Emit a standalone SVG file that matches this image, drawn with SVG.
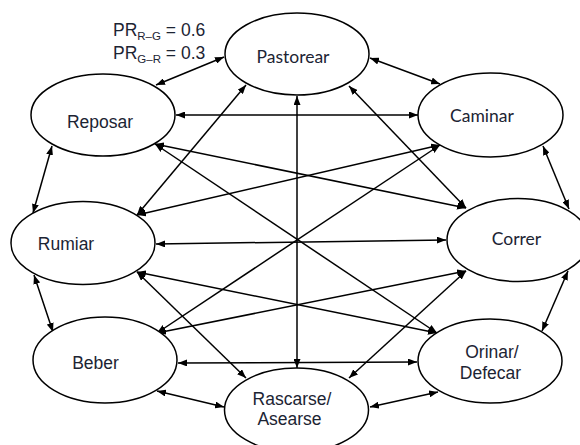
<svg xmlns="http://www.w3.org/2000/svg" width="580" height="445" viewBox="0 0 580 445">
<style>
.n{fill:#fff;stroke:#000;stroke-width:1.5}
.a{font-family:"Liberation Sans",Arial,sans-serif;font-size:17.5px;fill:#1c2433;text-anchor:middle}
.c{font-family:Lato,"Liberation Sans",sans-serif;font-size:17.5px;fill:#1c2433;text-anchor:middle}
.pr{font-family:"Liberation Sans",Arial,sans-serif;font-size:17.5px;fill:#1c2433}
.s{font-size:11.5px}
#edges line{stroke:#000;stroke-width:1.5;marker-start:url(#ah);marker-end:url(#ah)}
</style>
<defs>
<marker id="ah" markerUnits="userSpaceOnUse" markerWidth="9" markerHeight="7" refX="9" refY="3.5" orient="auto-start-reverse">
<path d="M0,0 L9,3.5 L0,7 z" fill="#000"/>
</marker>
</defs>
<rect width="580" height="445" fill="#fff"/>
<g id="edges">
<line x1="224" y1="57" x2="156" y2="85"/>
<line x1="370" y1="58" x2="440" y2="84"/>
<line x1="52" y1="146" x2="33" y2="213"/>
<line x1="543" y1="146" x2="569" y2="209"/>
<line x1="34" y1="275" x2="53" y2="332"/>
<line x1="568" y1="271" x2="542" y2="331"/>
<line x1="157" y1="391" x2="224" y2="407"/>
<line x1="370" y1="407" x2="438" y2="392"/>
<line x1="176" y1="115" x2="418" y2="115"/>
<line x1="156" y1="244" x2="446" y2="240"/>
<line x1="178" y1="363" x2="417" y2="362"/>
<line x1="297" y1="96" x2="297" y2="368"/>
<line x1="246" y1="85" x2="137" y2="215"/>
<line x1="349" y1="86" x2="466" y2="208"/>
<line x1="155" y1="144" x2="466" y2="208"/>
<line x1="155" y1="144" x2="437" y2="333"/>
<line x1="440" y1="145" x2="137" y2="215"/>
<line x1="440" y1="145" x2="157" y2="333"/>
<line x1="137" y1="272" x2="437" y2="333"/>
<line x1="137" y1="272" x2="246" y2="378"/>
<line x1="466" y1="271" x2="157" y2="333"/>
<line x1="466" y1="271" x2="349" y2="378"/>
</g>
<g id="pastorear"><ellipse class="n" cx="297" cy="54" rx="72" ry="41"/><text class="c" x="293" y="63">Pastorear</text></g>
<g id="reposar"><ellipse class="n" cx="103" cy="115" rx="72" ry="41"/><text class="a" x="100" y="128">Reposar</text></g>
<g id="caminar"><ellipse class="n" cx="490.5" cy="115" rx="72.5" ry="42"/><text class="c" x="482" y="122">Caminar</text></g>
<g id="rumiar"><ellipse class="n" cx="83" cy="243" rx="72" ry="41.5"/><text class="a" x="66" y="250">Rumiar</text></g>
<g id="correr"><ellipse class="n" cx="518" cy="240" rx="71" ry="41.5"/><text class="c" x="516.5" y="245">Correr</text></g>
<g id="beber"><ellipse class="n" cx="105" cy="360" rx="72" ry="43"/><text class="a" x="95.5" y="369">Beber</text></g>
<g id="orinar"><ellipse class="n" cx="490" cy="361" rx="72" ry="42"/><text class="a" x="492" y="358">Orinar/</text><text class="a" x="490.5" y="379">Defecar</text></g>
<g id="rascarse"><ellipse class="n" cx="296.5" cy="410" rx="72" ry="42"/><text class="a" x="292" y="405">Rascarse/</text><text class="a" x="289.5" y="425">Asearse</text></g>
<g id="legend">
<text class="pr" x="113" y="36">PR<tspan class="s" dy="4">R–G</tspan><tspan dy="-4"> = 0.6</tspan></text>
<text class="pr" x="113" y="59">PR<tspan class="s" dy="4">G–R</tspan><tspan dy="-4"> = 0.3</tspan></text>
</g>
</svg>
